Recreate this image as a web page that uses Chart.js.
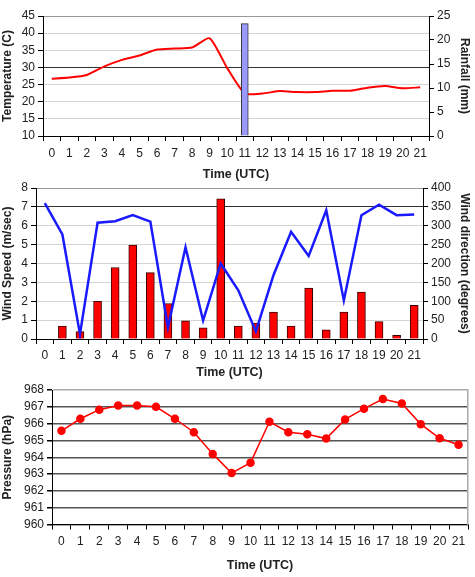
<!DOCTYPE html>
<html>
<head>
<meta charset="utf-8">
<script src="https://cdn.jsdelivr.net/npm/chart.js@4/dist/chart.umd.min.js"></script>
<style>
  body { margin: 0; background: #fff; width: 475px; height: 577px; position: relative; overflow: hidden; }
  canvas { position: absolute; left: 0; }
</style>
</head>
<body>
<canvas id="c1" width="475" height="185" style="top:0px"></canvas>
<canvas id="c2" width="475" height="204" style="top:176px"></canvas>
<canvas id="c3" width="475" height="201" style="top:376px"></canvas>
<script>
var hours = ['0','1','2','3','4','5','6','7','8','9','10','11','12','13','14','15','16','17','18','19','20','21'];
var temperature = [26.7, 27.05, 27.8, 30.3, 32.2, 33.5, 35.2, 35.5, 35.8, 38.5, 29.8, 22.4, 22.4, 23.1, 22.8, 22.8, 23.2, 23.2, 24.1, 24.6, 23.9, 24.2];
var rainfall = [null, null, null, null, null, null, null, null, null, null, null, 23.4, null, null, null, null, null, null, null, null, null, null];
var windSpeed = [0, 0.69, 0.39, 2.0, 3.79, 4.98, 3.52, 1.88, 0.96, 0.59, 7.43, 0.69, 0.84, 1.42, 0.69, 2.7, 0.48, 1.42, 2.49, 0.92, 0.2, 1.78];
var windDir = [360, 277, 13, 308, 312, 328, 311, 31, 243, 49, 200, 129, 20, 169, 284, 220, 341, 102, 328, 356, 328, 330];
var pressure = [965.57, 966.29, 966.83, 967.08, 967.08, 967.0, 966.29, 965.49, 964.2, 963.06, 963.68, 966.11, 965.49, 965.37, 965.11, 966.25, 966.89, 967.46, 967.2, 965.97, 965.13, 964.74];

Chart.defaults.font.family = '"Liberation Sans", Arial, sans-serif';
Chart.defaults.font.size = 12;
Chart.defaults.color = '#222';

var yTitleFont = { size: 12, weight: 'bold' };
var xTitleFont = { size: 12.5, weight: 'bold' };

function xAxis(h, labelPad, titlePad) {
    return {
        offset: true,
        grid: { offset: true, drawOnChartArea: false, tickColor: '#000', tickLength: 5 },
        border: { color: '#000' },
        ticks: { padding: labelPad, maxRotation: 0, autoSkip: false },
        title: { display: true, text: 'Time (UTC)', font: xTitleFont, padding: { top: 0, bottom: titlePad } },
        afterFit: function(s) { s.height = h; }
    };
}

// ---- temperature / rainfall
new Chart(document.getElementById('c1'), {
    type: 'bar',
    data: {
        labels: hours,
        datasets: [
            {
                label: 'Rainfall',
                data: rainfall,
                yAxisID: 'y1',
                backgroundColor: '#9999ff',
                borderColor: '#333',
                borderWidth: 1,
                barThickness: 7,
                order: 0
            },
            {
                label: 'Temperature',
                type: 'line',
                data: temperature,
                yAxisID: 'y',
                borderColor: '#ff0000',
                borderWidth: 2,
                pointRadius: 0,
                tension: 0.2,
                order: 1
            }
        ]
    },
    options: {
        responsive: false,
        animation: false,
        layout: { padding: { top: 16 } },
        plugins: { legend: { display: false }, tooltip: { enabled: false } },
        scales: {
            x: xAxis(49, 5, 3),
            y: {
                min: 10, max: 45,
                ticks: { stepSize: 5, padding: 3, autoSkip: false },
                grid: {
                    color: function(c) { return c.tick.value === 30 ? '#333' : (c.tick.value === 45 ? '#999' : '#d4d4d4'); },
                    tickColor: '#000', tickLength: 5
                },
                border: { color: '#000' },
                title: { display: true, text: 'Temperature (C)', font: yTitleFont, padding: { top: 0, bottom: 0 } },
                afterFit: function(s) { s.width = 43; }
            },
            y1: {
                position: 'right',
                min: 0, max: 25,
                ticks: { stepSize: 5, padding: 3, autoSkip: false },
                grid: { drawOnChartArea: false, tickColor: '#000', tickLength: 5 },
                border: { color: '#000' },
                title: { display: true, text: 'Rainfall (mm)', font: yTitleFont, padding: { top: 3, bottom: 0 } },
                afterFit: function(s) { s.width = 46; }
            }
        }
    }
});

// ---- wind speed / direction
new Chart(document.getElementById('c2'), {
    type: 'bar',
    data: {
        labels: hours,
        datasets: [
            {
                label: 'Wind direction',
                type: 'line',
                data: windDir,
                yAxisID: 'y1',
                borderColor: '#1a1aff',
                borderWidth: 2.5,
                pointRadius: 0,
                tension: 0,
                order: 0
            },
            {
                label: 'Wind Speed',
                data: windSpeed,
                yAxisID: 'y',
                backgroundColor: '#ff0000',
                borderColor: '#3a0000',
                borderWidth: 1,
                barThickness: 8,
                order: 1
            }
        ]
    },
    options: {
        responsive: false,
        animation: false,
        layout: { padding: { top: 12 } },
        plugins: { legend: { display: false }, tooltip: { enabled: false } },
        scales: {
            x: xAxis(41, 4, 0),
            y: {
                min: 0, max: 8,
                ticks: { stepSize: 1, padding: 3, autoSkip: false },
                grid: {
                    color: function(c) { return c.tick.value === 7 ? '#333' : (c.tick.value === 8 ? '#999' : '#d4d4d4'); },
                    tickColor: '#000', tickLength: 5
                },
                border: { color: '#000' },
                title: { display: true, text: 'Wind Speed (m/sec)', font: yTitleFont, padding: { top: 0, bottom: 0 } },
                afterFit: function(s) { s.width = 36; }
            },
            y1: {
                position: 'right',
                min: 0, max: 400,
                ticks: { stepSize: 50, padding: 3, autoSkip: false },
                grid: { drawOnChartArea: false, tickColor: '#000', tickLength: 5 },
                border: { color: '#000' },
                title: { display: true, text: 'Wind direction (degrees)', font: yTitleFont, padding: { top: 3, bottom: 0 } },
                afterFit: function(s) { s.width = 52; }
            }
        }
    }
});

// ---- pressure
new Chart(document.getElementById('c3'), {
    type: 'line',
    data: {
        labels: hours,
        datasets: [
            {
                label: 'Pressure',
                data: pressure,
                borderColor: '#ff0000',
                borderWidth: 1.5,
                pointRadius: 3.5,
                pointBackgroundColor: '#ff0000',
                pointBorderColor: '#ff0000',
                tension: 0
            }
        ]
    },
    options: {
        responsive: false,
        animation: false,
        layout: { padding: { top: 14 } },
        plugins: { legend: { display: false }, tooltip: { enabled: false } },
        scales: {
            x: xAxis(52.5, 5, 4),
            y: {
                min: 960, max: 968,
                ticks: { stepSize: 1, padding: 3, autoSkip: false },
                grid: {
                    color: function(c) { return c.tick.value === 968 ? '#aaa' : '#555'; },
                    lineWidth: 1.5,
                    tickColor: '#000', tickLength: 5
                },
                border: { color: '#000' },
                title: { display: true, text: 'Pressure (hPa)', font: yTitleFont, padding: { top: 0, bottom: 0 } },
                afterFit: function(s) { s.width = 52; }
            },
            yr: {
                position: 'right',
                min: 960, max: 968,
                ticks: { display: false },
                grid: { drawOnChartArea: false, drawTicks: false },
                border: { color: '#aaa', width: 1.5 },
                afterFit: function(s) { s.width = 7; }
            }
        }
    }
});
</script>
</body>
</html>
